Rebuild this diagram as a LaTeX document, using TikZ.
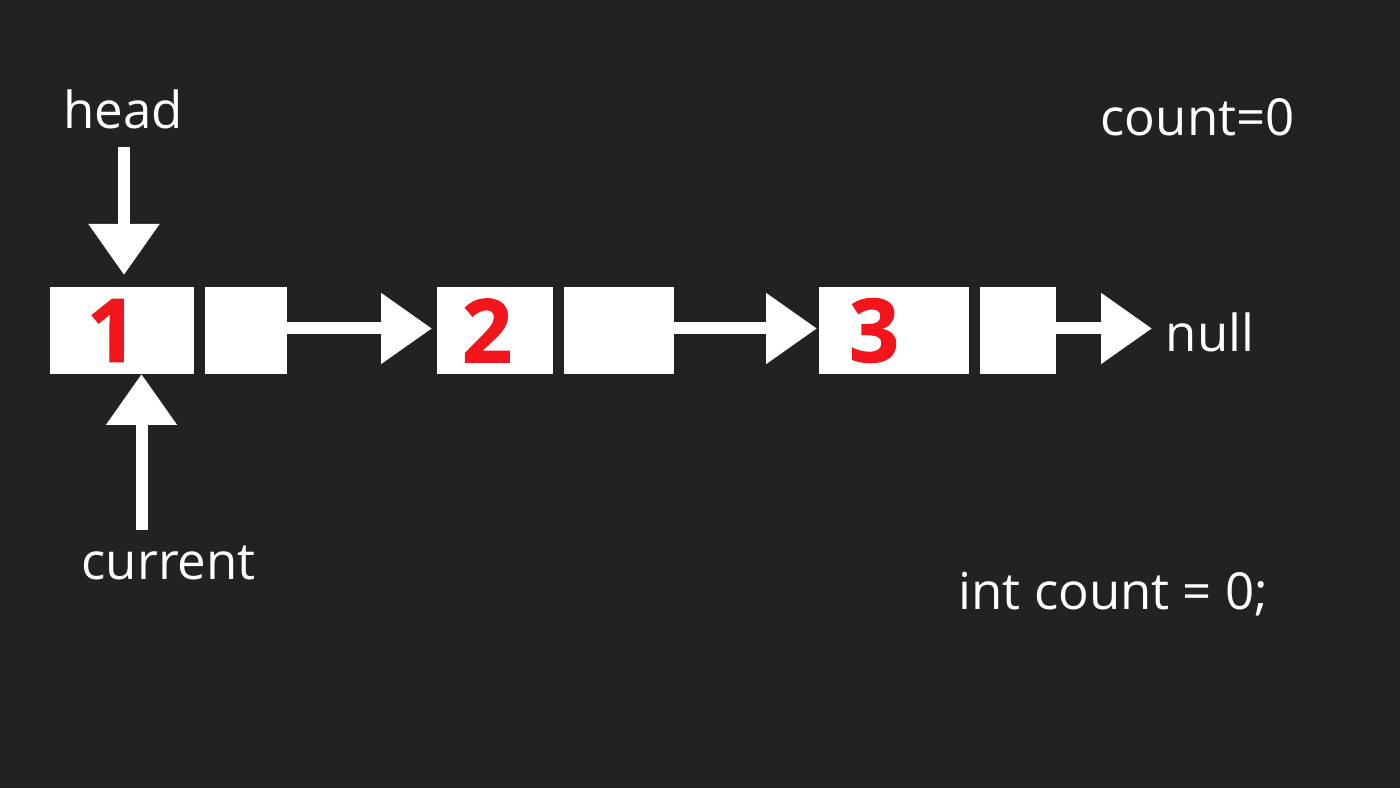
\documentclass[tikz,border=0pt]{standalone}
\usepackage{fontspec}
\setmainfont{Open Sans}
\newfontfamily\digitfont[BoldFeatures={FakeBold=1.2}]{Open Sans}
\usepackage{xcolor}
\usepackage{tikz}
\usetikzlibrary{arrows.meta, positioning}

\definecolor{bgdark}{RGB}{34,34,34}
\definecolor{valred}{RGB}{242,22,28}

\begin{document}
\begin{tikzpicture}[
          cell/.style={rectangle, fill=white, draw=none, minimum height=0.87cm, inner sep=0pt, outer sep=0pt},
          digit/.style={text=valred, font=\fontsize{25}{30}\digitfont\bfseries, inner sep=0pt},
          txt/.style={text=white, font=\fontsize{14.5}{17}\selectfont, inner sep=0pt, anchor=base west},
          ptr/.style={white, line width=0.12cm, -{Triangle[length=0.51cm, width=0.68cm]}}
        ]
          \fill[bgdark] (0,0) rectangle (14,7.88);
          \useasboundingbox (0,0) rectangle (14,7.88);

          % list nodes: data cell + next cell
          \node[cell, minimum width=1.44cm] (d1) at (1.22,4.575) {};
          \node[cell, minimum width=0.82cm, right=0.11cm of d1] (n1) {};
          \node[cell, minimum width=1.16cm, right=1.50cm of n1] (d2) {};
          \node[cell, minimum width=1.10cm, right=0.11cm of d2] (n2) {};
          \node[cell, minimum width=1.50cm, right=1.45cm of n2] (d3) {};
          \node[cell, minimum width=0.76cm, right=0.11cm of d3] (n3) {};

          \node[digit] (v1) at ([xshift=-0.10cm]d1.center) {1};
          \node[digit] (v2) at ([xshift=-0.08cm]d2.center) {2};
          \node[digit] (v3) at ([xshift=-0.20cm]d3.center) {3};

          % labels
          \node[txt] (head) at (0.63,6.59) {head};
          \node[txt] (cur) at (0.81,2.08) {current};
          \node[txt] (null) at (11.65,4.36) {null};
          \node[txt] (cnt) at (11.00,6.52) {count=0};
          \node[txt] (decl) at (9.58,1.78) {int count = 0;};

          % pointers
          \draw[ptr] ([yshift=0.02cm]n1.east) -- ([xshift=-0.05cm, yshift=0.02cm]d2.west);
          \draw[ptr] ([yshift=0.02cm]n2.east) -- ([xshift=-0.02cm, yshift=0.02cm]d3.west);
          \draw[ptr] ([yshift=0.02cm]n3.east) -- ([xshift=-0.13cm, yshift=0.02cm]null.west |- n3.east);

          \coordinate (headtail) at (1.24,6.41);
          \draw[ptr] (headtail) -- ([yshift=0.12cm]headtail |- d1.north);
          \coordinate (curtail) at (1.415,2.58);
          \draw[ptr] (curtail) -- (curtail |- d1.south);
        \end{tikzpicture}
\end{document}
